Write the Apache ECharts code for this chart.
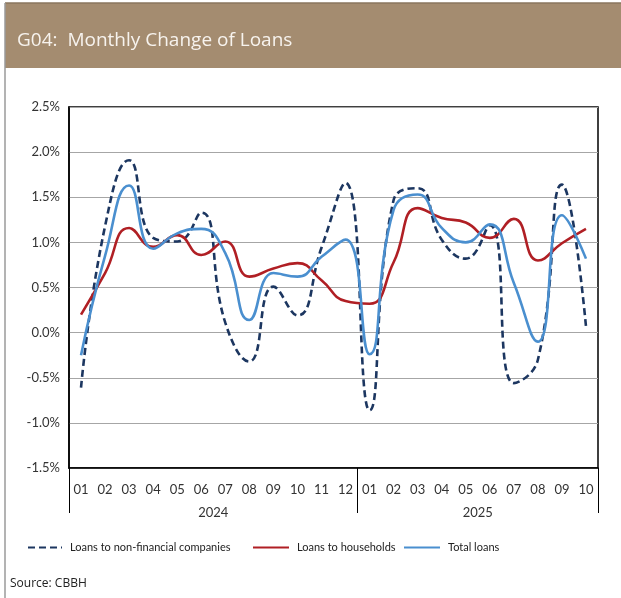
<!DOCTYPE html>
<html><head><meta charset="utf-8">
<script src="https://cdn.jsdelivr.net/npm/echarts@6/dist/echarts.min.js"></script>
<style>html,body{margin:0;padding:0;background:#fff}#c{width:621px;height:598px}</style>
</head><body><div id="c"></div>
<script>
const months = ['01','02','03','04','05','06','07','08','09','10','11','12','01','02','03','04','05','06','07','08','09','10'];
const years = ['2024','2025'];
const monthsPerYear = [12,10];
const yTicks = [-1.5,-1.0,-0.5,0.0,0.5,1.0,1.5,2.0,2.5];
const nonFinancial = [-0.61,1.18,1.91,1.05,1.01,1.33,0.11,-0.32,0.51,0.19,0.94,1.66,-0.86,1.47,1.60,1.03,0.82,1.19,-0.56,-0.30,1.64,0.07];
const households = [0.20,0.66,1.16,0.95,1.08,0.86,1.01,0.62,0.71,0.77,0.58,0.35,0.32,0.78,1.38,1.27,1.22,1.05,1.26,0.80,0.99,1.15];
const totalLoans = [-0.25,0.85,1.63,0.93,1.10,1.15,0.88,0.14,0.66,0.62,0.84,1.03,-0.24,1.36,1.53,1.16,1.00,1.20,0.55,-0.10,1.30,0.82];
const names = ['Loans to non-financial companies','Loans to households','Total loans'];

const FONT = 'Lato';
const bounds = [0]; monthsPerYear.forEach(m => bounds.push(bounds[bounds.length-1]+m));
const centres = monthsPerYear.map((m,i) => bounds[i] + m/2);

const legendBase = {top:542, padding:0, itemHeight:10, itemGap:0, itemStyle:{opacity:0},
  textStyle:{fontFamily:FONT,fontSize:11,color:'#222', padding:[0,0,0,3]}};

const chart = echarts.init(document.getElementById('c'), null, {renderer:'canvas'});
chart.setOption({
  animation:false,
  backgroundColor:'#fff',
  graphic:[
    {type:'rect', shape:{x:5,y:3,width:616,height:65}, style:{fill:'#a48c70'}, z:0},
    {type:'line', shape:{x1:5,y1:3,x2:621,y2:3}, style:{stroke:'#8a765e',lineWidth:1.5}},
    {type:'line', shape:{x1:5,y1:3,x2:5,y2:598}, style:{stroke:'#9a9a9a',lineWidth:1.5}},
    {type:'text', left:17, top:31, style:{text:'G04:  Monthly Change of Loans', fill:'#f7f3ee', font:'19px "Open Sans"'}},
    {type:'text', left:10, top:578, style:{text:'Source: CBBH', fill:'#222', font:'12px "Open Sans"'}}
  ],
  grid:{left:69, right:23, top:107, bottom:130, show:true, borderColor:'#000', borderWidth:1.5, containLabel:false},
  legend:[
    Object.assign({data:[names[0]], left:27, itemWidth:34}, legendBase),
    Object.assign({data:[names[1]], left:252, itemWidth:36}, legendBase),
    Object.assign({data:[names[2]], left:403, itemWidth:36}, legendBase)
  ],
  xAxis:[
    {type:'category', data:months, boundaryGap:true, position:'bottom',
     axisLine:{onZero:false, lineStyle:{color:'#000',width:1.5}}, axisTick:{show:false},
     axisLabel:{interval:0, fontFamily:FONT, fontSize:13, color:'#333', margin:15}},
    {type:'value', min:0, max:bounds[bounds.length-1], position:'bottom',
     axisLine:{show:false, onZero:false}, splitLine:{show:false},
     axisTick:{show:true, length:45, inside:false, customValues:bounds, lineStyle:{color:'#000',width:1}},
     axisLabel:{show:true, customValues:centres, margin:38, fontFamily:FONT, fontSize:13, color:'#333',
       formatter:(v)=>{const i=centres.indexOf(v); return i>=0?years[i]:'';}}}
  ],
  yAxis:{type:'value', min:yTicks[0], max:yTicks[yTicks.length-1], interval:0.5,
    axisLine:{show:true, onZero:false, lineStyle:{color:'#000',width:1.5}}, axisTick:{show:false},
    splitLine:{lineStyle:{color:'#a6a6a6',width:1.2}},
    axisLabel:{fontFamily:FONT, fontSize:13, color:'#333', margin:9, formatter:v=>v.toFixed(1)+'%'}},
  series:[
    {name:names[0], type:'line', data:nonFinancial, smooth:0.5, symbol:'none', z:3,
     lineStyle:{color:'#1c3660', width:2.6, type:[7,4]}, itemStyle:{color:'#1c3660'}},
    {name:names[1], type:'line', data:households, smooth:0.5, symbol:'none', z:4,
     lineStyle:{color:'#b01f24', width:2.6}, itemStyle:{color:'#b01f24'}},
    {name:names[2], type:'line', data:totalLoans, smooth:0.5, symbol:'none', z:5,
     lineStyle:{color:'#4a8fcf', width:2.6}, itemStyle:{color:'#4a8fcf'}}
  ]
});
</script></body></html>
